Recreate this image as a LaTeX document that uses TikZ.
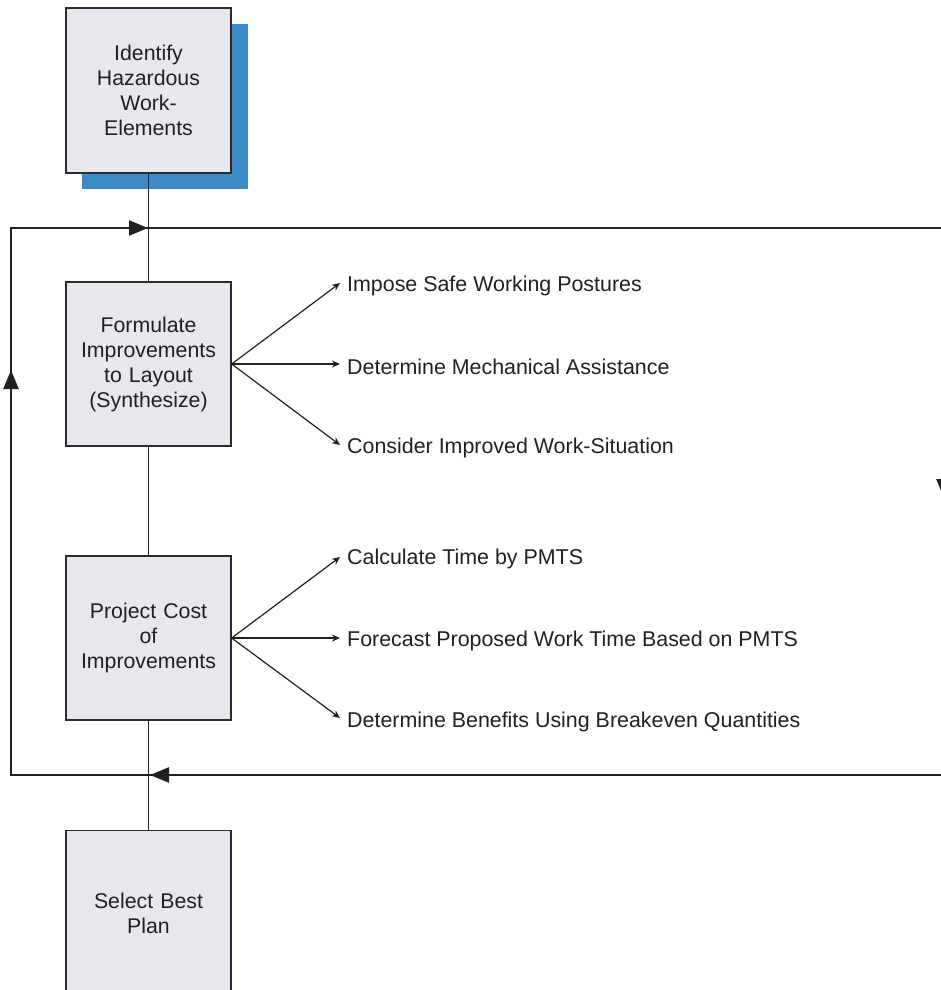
\documentclass[tikz,border=0pt]{standalone}
\usepackage{fontspec}
\setmainfont{Liberation Sans}
\usetikzlibrary{arrows.meta}
\definecolor{boxfill}{HTML}{E6E8ED}
\definecolor{boxline}{HTML}{2B2B2B}
\definecolor{shadowblue}{HTML}{3A8BC8}
\definecolor{ink}{HTML}{231F20}
\begin{document}
\begin{tikzpicture}[x=1pt,y=-1pt,
  stepbox/.style={draw=boxline, line width=1.3pt, fill=boxfill,
    minimum width=165pt, minimum height=165pt, text width=150pt,
    align=center, inner sep=0pt, font=\fontsize{21.3}{25}\selectfont, text=ink},
  tasklabel/.style={anchor=west, inner xsep=7pt, inner ysep=0pt,
    font=\fontsize{21.4}{25}\selectfont, text=ink},
  flow/.style={line width=1.3pt, draw=ink},
  loopline/.style={line width=2.4pt, draw=ink, line join=miter},
  fan/.style={line width=1.2pt, draw=ink, -{Stealth[length=8pt,width=7pt]}},
  looptip/.style={line width=2.4pt, draw=ink, fill=ink,
    -{Triangle[length=19pt,width=15pt]}}
]
\useasboundingbox (0,0) rectangle (941,990);

% feedback loop around the synthesis and costing steps
\coordinate (lt) at (11,228);
\coordinate (lb) at (11,775);
\coordinate (rt) at (944,228);
\coordinate (rb) at (944,775);
\coordinate (topTip) at (148,228);
\coordinate (leftTip) at (11,370);
\coordinate (rightTip) at (944,498);
\coordinate (botTip) at (150,775);
\draw[loopline] (rb) -- (lb) -- (lt) -- (rt) -- cycle;
\draw[looptip] (lt) -- (topTip);
\draw[looptip] (lb) -- (leftTip);
\draw[looptip] (rt) -- (rightTip);
\draw[looptip] (rb) -- (botTip);

% main steps
\fill[shadowblue] (82,24) rectangle (248,189);
\node[stepbox] (b1) at (148.5,90.5) {Identify\\Hazardous\\Work-\\Elements};
\node[stepbox, minimum height=164pt] (b2) at (148.5,364) {Formulate\\Improvements\\to Layout\\(Synthesize)};
\node[stepbox, minimum height=164pt] (b3) at (148.5,638) {Project Cost\\of\\Improvements};
\node[stepbox] (b4) at (148.5,913) {Select Best\\Plan};

\draw[flow] (b1.south) -- (b2.north);
\draw[flow] (b2.south) -- (b3.north);
\draw[flow] (b3.south) -- (b4.north);

% sub-tasks of the synthesis step
\coordinate (p1tip) at (340,283);
\coordinate (p2tip) at (340,364);
\coordinate (p3tip) at (340,445);
\node[tasklabel] (p1) at (340,286) {Impose Safe Working Postures};
\node[tasklabel] (p2) at (340,367) {Determine Mechanical Assistance};
\node[tasklabel] (p3) at (340,448) {Consider Improved Work-Situation};
\draw[fan] (b2.east) -- (p1tip);
\draw[fan] (b2.east) -- (p2tip);
\draw[fan] (b2.east) -- (p3tip);

% sub-tasks of the costing step
\coordinate (c1tip) at (340,557);
\coordinate (c2tip) at (340,638);
\coordinate (c3tip) at (340,718);
\node[tasklabel] (c1) at (340,559) {Calculate Time by PMTS};
\node[tasklabel] (c2) at (340,641) {Forecast Proposed Work Time Based on PMTS};
\node[tasklabel] (c3) at (340,722) {Determine Benefits Using Breakeven Quantities};
\draw[fan] (b3.east) -- (c1tip);
\draw[fan] (b3.east) -- (c2tip);
\draw[fan] (b3.east) -- (c3tip);
\end{tikzpicture}
\end{document}
